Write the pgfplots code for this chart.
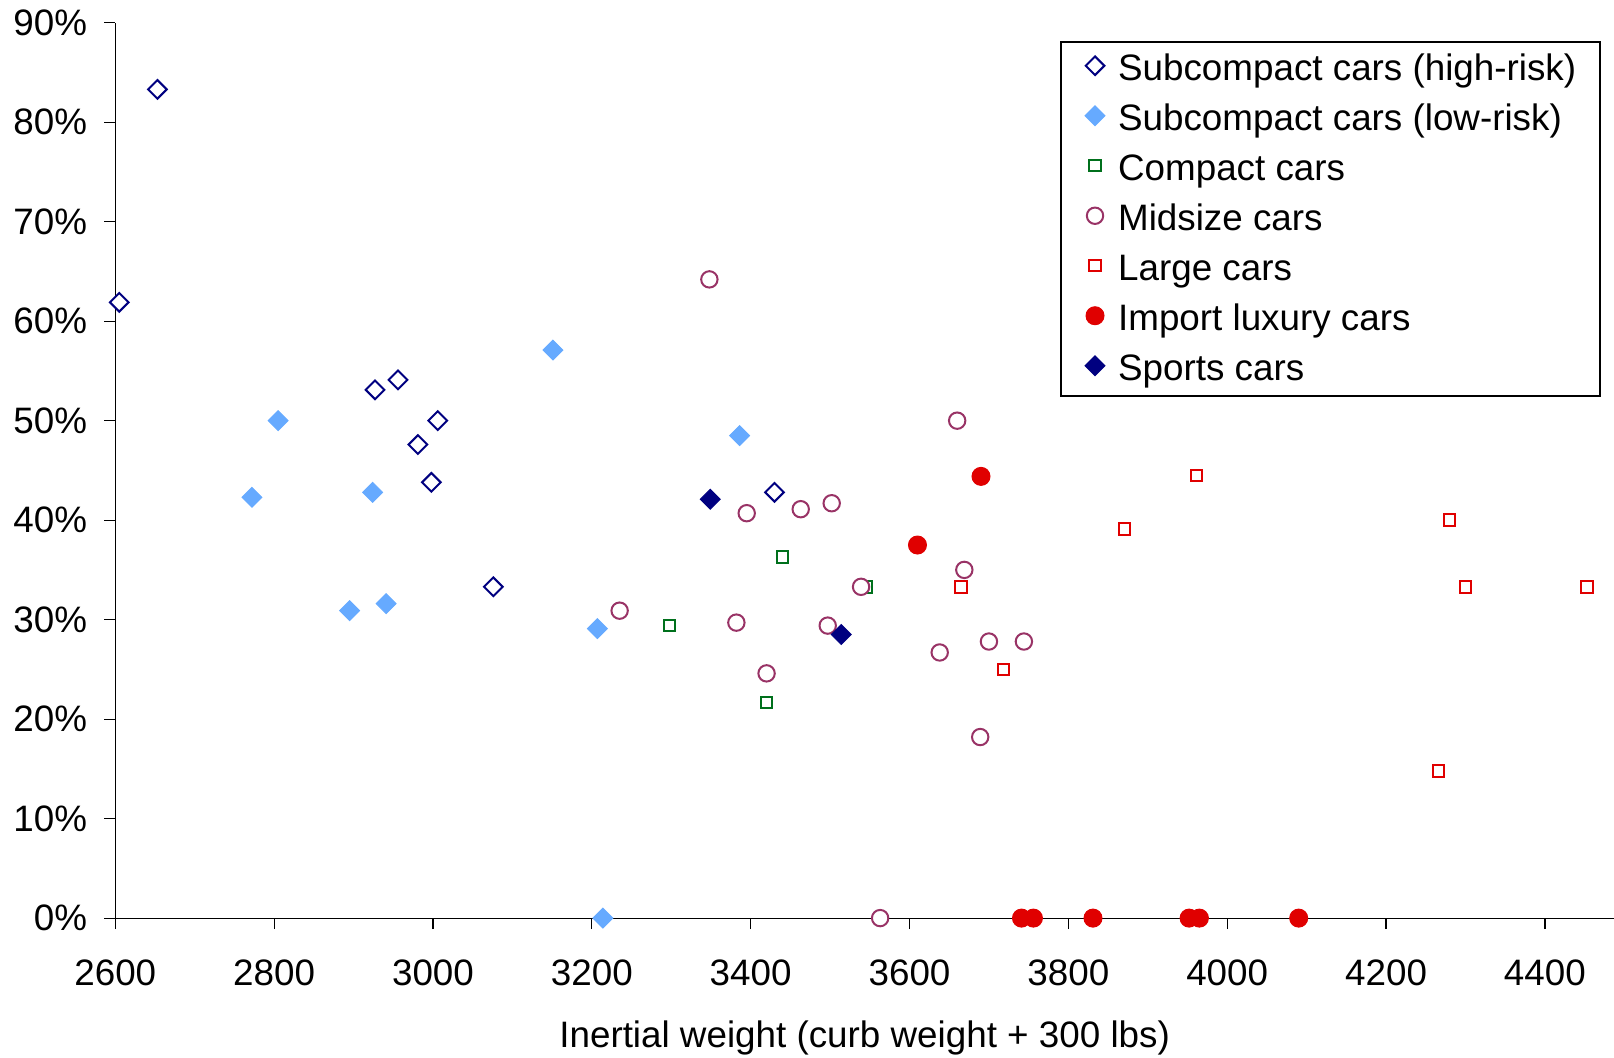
\documentclass[border=0pt]{standalone}
\usepackage{fontspec}
\setmainfont{Liberation Sans}
\usepackage{pgfplots}
\pgfplotsset{compat=1.18}
\definecolor{navyc}{HTML}{000080}
\definecolor{lblue}{HTML}{66AAFF}
\definecolor{cgreen}{HTML}{00701C}
\definecolor{plum}{HTML}{993366}
\definecolor{cred}{HTML}{E00000}
\newcommand{\chartfont}{\fontsize{18.4}{22}\selectfont}
\begin{document}
\begin{tikzpicture}
\path[use as bounding box] (-57.65pt,-69.45pt) rectangle (749.35pt,459.05pt);
\begin{axis}[
  scale only axis, width=749.35pt, height=447.7pt,
  xmin=2600, xmax=4487, ymin=0, ymax=90,
  clip=false,
  axis x line*=bottom, axis y line*=left,
  axis line style={line width=0.6pt, black},
  xtick={2600,2800,3000,3200,3400,3600,3800,4000,4200,4400},
  xticklabels={2600,2800,3000,3200,3400,3600,3800,4000,4200,4400},
  ytick={0,10,20,30,40,50,60,70,80,90},
  yticklabels={0\%,10\%,20\%,30\%,40\%,50\%,60\%,70\%,80\%,90\%},
  tick align=outside, major tick length=5.5pt,
  tick style={line width=0.6pt, black},
  tick label style={font=\chartfont},
  xticklabel style={yshift=-11.6pt},
  yticklabel style={xshift=-5.1pt},
  xlabel={Inertial weight (curb weight + 300 lbs)},
  xlabel style={at={(axis description cs:0.5,0)}, anchor=base, yshift=-64.5pt, font=\chartfont},
  legend cell align=left,
  every legend image post/.style={yshift=1.8pt},
  legend style={at={(axis description cs:0.6303,0.9792)}, anchor=north west,
    draw=black, line width=1pt, font=\chartfont,
    inner xsep=12.1pt, inner ysep=1pt, row sep=0pt,
    nodes={inner xsep=0pt, inner ysep=0pt, text height=18.1pt, text depth=6.9pt},
    /tikz/every odd column/.append style={column sep=6.6pt}},
]
\addplot[only marks, mark=square*, mark size=3.3pt, mark options={rotate=45, draw=navyc, fill=white, line width=1pt}]
coordinates {(2653,83.3) (2605,61.9) (2927,53.1) (2956,54.1) (3006,50.0) (2981,47.6) (2998,43.8) (3076,33.3) (3430,42.8)};
\addlegendentry{Subcompact cars (high-risk)}
\addplot[only marks, mark=square*, mark size=3.5pt, mark options={rotate=45, draw=lblue, fill=lblue, line width=0.5pt}]
coordinates {(2805,50.0) (2772,42.3) (2924,42.8) (2895,30.9) (2941,31.6) (3151,57.1) (3386,48.5) (3207,29.1) (3214,0)};
\addlegendentry{Subcompact cars (low-risk)}
\addplot[only marks, mark=square*, mark size=2.85pt, mark options={draw=cgreen, fill=white, line width=1pt}]
coordinates {(3298,29.4) (3440,36.3) (3420,21.7) (3545,33.3)};
\addlegendentry{Compact cars}
\addplot[only marks, mark=*, mark size=4.1pt, mark options={draw=plum, fill=white, line width=1pt}]
coordinates {(3348,64.2) (3235,30.9) (3382,29.7) (3395,40.7) (3420,24.6) (3463,41.1) (3502,41.7) (3497,29.4) (3539,33.3) (3563,0) (3660,50.0) (3669,35.0) (3638,26.7) (3700,27.8) (3744,27.8) (3689,18.2)};
\addlegendentry{Midsize cars}
\addplot[only marks, mark=square*, mark size=2.85pt, mark options={draw=cred, fill=white, line width=1pt}]
coordinates {(3665,33.3) (3718,25.0) (3871,39.1) (3961,44.5) (4280,40.0) (4300,33.3) (4453,33.3) (4266,14.8)};
\addlegendentry{Large cars}
\addplot[only marks, mark=*, mark size=4.5pt, mark options={draw=cred, fill=cred, line width=0.5pt}]
coordinates {(3690,44.4) (3610,37.5) (3741,0) (3756,0) (3831,0) (3952,0) (3965,0) (4090,0)};
\addlegendentry{Import luxury cars}
\addplot[only marks, mark=square*, mark size=3.5pt, mark options={rotate=45, draw=navyc, fill=navyc, line width=0.5pt}]
coordinates {(3349,42.1) (3514,28.5)};
\addlegendentry{Sports cars}
\end{axis}
\end{tikzpicture}
\end{document}
